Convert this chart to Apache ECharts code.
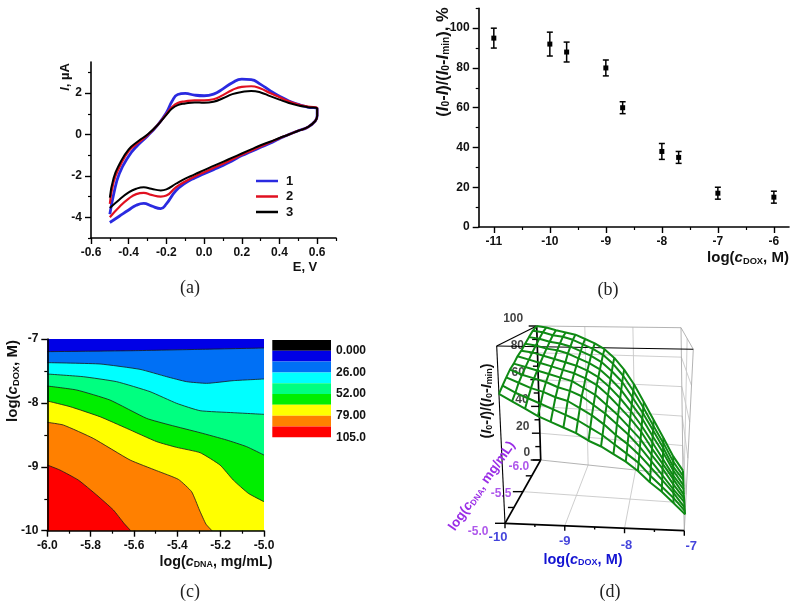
<!DOCTYPE html>
<html><head><meta charset="utf-8">
<style>html,body{margin:0;padding:0;background:#fff}#c{width:796px;height:605px}</style>
<script src="https://cdn.jsdelivr.net/npm/echarts@6/dist/echarts.min.js"></script>
</head><body><div id="c"></div>
<script>
// ---------- panel (a) data
const cvE = [-0.5,-0.48,-0.45,-0.4,-0.35,-0.3,-0.25,-0.2,-0.17,-0.14,-0.1,-0.05,0,0.05,0.1,0.15,0.2,0.25,0.3,0.35,0.4,0.45,0.5,0.55,0.6,
             0.6,0.59,0.55,0.5,0.45,0.4,0.35,0.3,0.25,0.2,0.15,0.1,0.05,0,-0.05,-0.1,-0.15,-0.2,-0.23,-0.28,-0.32,-0.36,-0.4,-0.45,-0.5];
const cv1 = [-3.85,-2.9,-1.9,-1.05,-0.5,-0.07,0.42,1.05,1.6,1.93,1.98,1.9,1.87,1.95,2.2,2.5,2.67,2.65,2.42,2.12,1.85,1.62,1.45,1.32,1.25,
             0.9,0.65,0.35,0.18,0.0,-0.2,-0.42,-0.62,-0.82,-1.02,-1.27,-1.5,-1.7,-1.9,-2.1,-2.35,-2.72,-3.35,-3.58,-3.45,-3.33,-3.42,-3.65,-3.95,-4.25];
const cv2 = [-3.35,-2.3,-1.6,-0.8,-0.4,-0.03,0.42,0.98,1.32,1.52,1.6,1.65,1.65,1.7,1.9,2.15,2.3,2.33,2.22,2.0,1.8,1.6,1.45,1.35,1.28,
             0.9,0.65,0.35,0.18,0.0,-0.18,-0.38,-0.58,-0.78,-0.98,-1.2,-1.42,-1.62,-1.82,-2.03,-2.27,-2.55,-2.95,-3.0,-2.92,-2.82,-2.88,-3.1,-3.5,-4.0];
const cv3 = [-3.05,-2.1,-1.45,-0.72,-0.33,0.0,0.42,0.95,1.25,1.42,1.5,1.55,1.53,1.58,1.75,1.95,2.05,2.1,2.03,1.85,1.68,1.52,1.4,1.32,1.25,
             0.9,0.65,0.35,0.18,0.0,-0.17,-0.35,-0.52,-0.72,-0.92,-1.12,-1.32,-1.52,-1.72,-1.93,-2.13,-2.38,-2.65,-2.7,-2.62,-2.55,-2.62,-2.8,-3.15,-3.55];
const aXMajor = [-0.6,-0.4,-0.2,0,0.2,0.4,0.6];
const aXMinor = [-0.5,-0.3,-0.1,0.1,0.3,0.5,0.7];
const aYMajor = [-4,-2,0,2];
const aYMinor = [-5,-3,-1,1,3];
// ---------- panel (b) data
const bX = [-11,-10,-9.7,-9,-8.7,-8,-7.7,-7,-6];
const bY = [95,92,88,80,60,38,35,17,15];
const bErr = [5,6,5,4,3,4,3,3,3];
const bXMajor = [-11,-10,-9,-8,-7,-6];
const bXMinor = [-10.5,-9.5,-8.5,-7.5,-6.5];
const bYMajor = [0,20,40,60,80,100];
const bYMinor = [10,30,50,70,90,110];
// ---------- panel (c) data: contour boundaries
const c0X = [-6,-5];                         const c0Y = [-7,-7];
const c1X = [-6,-5.603,-5.295,-5];           const c1Y = [-7.198,-7.183,-7.162,-7.141];
const c2X = [-6,-5.757,-5.572,-5.449,-5.357,-5.265,-5.142,-5];
const c2Y = [-7.37,-7.391,-7.475,-7.59,-7.668,-7.694,-7.652,-7.626];
const c3X = [-6,-5.834,-5.68,-5.526,-5.403,-5.295,-5.142,-5];
const c3Y = [-7.548,-7.59,-7.668,-7.824,-8.007,-8.122,-8.153,-8.179];
const c4X = [-6,-5.865,-5.711,-5.542,-5.434,-5.295,-5.172,-5.08,-5];
const c4Y = [-7.736,-7.798,-7.955,-8.242,-8.346,-8.466,-8.581,-8.685,-8.816];
const c5X = [-6,-5.895,-5.757,-5.634,-5.495,-5.403,-5.295,-5.203,-5.142,-5.072,-5];
const c5Y = [-7.97,-8.059,-8.216,-8.398,-8.607,-8.696,-8.779,-8.972,-9.207,-9.416,-9.546];
const c6X = [-6,-5.926,-5.788,-5.618,-5.495,-5.395,-5.334,-5.298,-5.268,-5.24];
const c6Y = [-8.304,-8.346,-8.555,-8.894,-9.061,-9.197,-9.39,-9.676,-9.896,-10];
const c7X = [-6,-5.942,-5.857,-5.772,-5.695,-5.646,-5.615];
const c7Y = [-8.972,-9.05,-9.207,-9.442,-9.676,-9.885,-10];
const cXMajor = [-6,-5.8,-5.6,-5.4,-5.2,-5];
const cXMinor = [-5.9,-5.7,-5.5,-5.3,-5.1];
const cYMajor = [-10,-9,-8,-7];
const cYMinor = [-9.5,-8.5,-7.5];
const legendColors = ['#000000','#0000e6','#0070f5','#00ffff','#00ff80','#00ee00','#ffff00','#ff8000','#ff0000'];
const legendStep = [1];
const legendLabels = ['0.000','26.00','52.00','79.00','105.0'];
// ---------- panel (d) data: surface
const dX = [-10,-9.8,-9.6,-9.4,-9.2,-9,-8.8,-8.6,-8.4,-8.2,-8,-7.8,-7.6,-7.4,-7.2,-7];
const dY = [-6,-5.9,-5.8,-5.7,-5.6,-5.5,-5.4,-5.3,-5.2,-5.1,-5];
const dZ0 = [100,99,97,95.5,94,91,88,84,78,70,60,48,36,24,12,3];
const dZ1 = [98,97,95,94,92,89,86,82,76,68,58,47,35,24,12,3];
const dZ2 = [95,94,92,91,89,86,83,79,73,66,56,46,35,24,12,4];
const dZ3 = [92,91,89,88,86,83,80,76,70,63,54,45,34,24,13,4];
const dZ4 = [89,88,86,84,82,80,77,73,67,60,52,43,33,23,13,5];
const dZ5 = [87,85,83,81,79,77,74,70,64,57,50,42,32,23,14,5];
const dZ6 = [84,82,80,78,76,74,70,66,60,54,47,40,31,23,14,6];
const dZ7 = [82,79,77,75,72,70,67,62,57,51,45,38,30,22,14,7];
const dZ8 = [79,76,73,71,68,66,62,58,53,47,42,36,29,22,15,7];
const dZ9 = [76,72,69,66,63,60,57,53,49,44,39,34,27,21,15,8];
const dZ10 = [73,69,65,61,58,55,52,48,45,41,37,32,26,21,15,9];
const dZ = [dZ0,dZ1,dZ2,dZ3,dZ4,dZ5,dZ6,dZ7,dZ8,dZ9,dZ10];
const dZTicks = [0,20,40,60,80,100];
const dXTicks = [-10,-9,-8,-7];
const dYTicks = [-6,-5.5,-5];

// ---------- styles
const SANS = '"Liberation Sans",Arial,sans-serif';
const INK = '#111';
function axisPair(gi, pos, min, max, major, minor, fmt, size, len, lw) {
  const main = {
    type:'value', gridIndex:gi, position:pos, min, max, z:6,
    axisLine:{show:true,onZero:false,lineStyle:{color:'#000',width:lw||1.6}},
    axisTick:{show:true,customValues:major,length:len||6,lineStyle:{color:'#000',width:1.4}},
    axisLabel:{customValues:major,formatter:fmt,color:INK,fontFamily:SANS,fontWeight:'bold',fontSize:size||12,margin:(len||6)+3},
    splitLine:{show:false}
  };
  const sub = {
    type:'value', gridIndex:gi, position:pos, min, max, z:6,
    axisLine:{show:false,onZero:false},
    axisTick:{show:true,customValues:minor,length:3,lineStyle:{color:'#000',width:1.2}},
    axisLabel:{show:false}, splitLine:{show:false}
  };
  return [main, sub];
}
const f1 = v => v.toFixed(1);
const f0 = v => String(Math.round(v));

const xAxes = [], yAxes = [];
xAxes.push(...axisPair(0,'bottom',-0.6,0.7,aXMajor,aXMinor,f1));
yAxes.push(...axisPair(0,'left',-5,3.5,aYMajor,aYMinor,f0));
xAxes.push(...axisPair(1,'bottom',-11.27,-5.73,bXMajor,bXMinor,f0));
yAxes.push(...axisPair(1,'left',0,110,bYMajor,bYMinor,f0));
xAxes.push(...axisPair(2,'bottom',-6,-5,cXMajor,cXMinor,f1));
yAxes.push(...axisPair(2,'left',-10,-7,cYMajor,cYMinor,f0));
xAxes.push({type:'category',gridIndex:3,data:['k'],show:false});
yAxes.push({type:'value',gridIndex:3,min:0,max:9,inverse:true,position:'right',
  axisLine:{show:false},axisTick:{show:false,customValues:[1,3,5,7,9]},splitLine:{show:false},
  axisLabel:{customValues:[1,3,5,7,9],formatter:v=>legendLabels[(v-1)/2],color:INK,fontFamily:SANS,fontWeight:'bold',fontSize:12,margin:5,align:'left'}});
xAxes.push({type:'value',gridIndex:4,min:0,max:796,show:false});
yAxes.push({type:'value',gridIndex:4,min:0,max:605,inverse:true,show:false});

const series = [];
// (a)
const zipE = arr => arr.map((v,i)=>[cvE[i],v]);
[['1',cv1,'#2a2ae0',2.8],['2',cv2,'#e01020',2.2],['3',cv3,'#000000',2]].forEach(s=>{
  series.push({name:s[0],type:'line',xAxisIndex:0,yAxisIndex:0,data:zipE(s[1]),showSymbol:false,smooth:0.5,
    lineStyle:{color:s[2],width:s[3]},itemStyle:{color:s[2]}});
});
// (b)
series.push({type:'custom',xAxisIndex:2,yAxisIndex:2,
  data:bX.map((x,i)=>[x,bY[i],bY[i]-bErr[i],bY[i]+bErr[i]]),
  encode:{x:0,y:1},
  renderItem:(p,api)=>{
    const x=api.value(0),a=api.coord([x,api.value(2)]),b=api.coord([x,api.value(3)]);
    const st={stroke:'#000',lineWidth:1.5,fill:null},w=3;
    return {type:'group',children:[
      {type:'line',shape:{x1:a[0],y1:a[1],x2:b[0],y2:b[1]},style:st},
      {type:'line',shape:{x1:a[0]-w,y1:a[1],x2:a[0]+w,y2:a[1]},style:st},
      {type:'line',shape:{x1:b[0]-w,y1:b[1],x2:b[0]+w,y2:b[1]},style:st}]};
  }});
series.push({type:'scatter',xAxisIndex:2,yAxisIndex:2,symbol:'rect',symbolSize:5,
  data:bX.map((x,i)=>[x,bY[i]]),itemStyle:{color:'#000',opacity:1}});
// (c)
[[c0X,c0Y,1],[c1X,c1Y,2],[c2X,c2Y,3],[c3X,c3Y,4],[c4X,c4Y,5],[c5X,c5Y,6],[c6X,c6Y,7],[c7X,c7Y,8]].forEach((s,i)=>{
  series.push({type:'line',xAxisIndex:4,yAxisIndex:4,showSymbol:false,smooth:0.15,z:2+i*0.01,
    data:s[0].map((x,j)=>[x,s[1][j]]),
    lineStyle:{color:'#1a1a1a',width:i===0?0:0.8},
    areaStyle:{color:legendColors[s[2]],opacity:1,origin:'start'}});
});
legendColors.forEach(col=>{
  series.push({type:'bar',xAxisIndex:6,yAxisIndex:6,stack:'legend',barWidth:'100%',data:legendStep,itemStyle:{color:col}});
});
// (d) projection: box corners on screen, trilinear between them
const box = {
  b0:[540.7,460], b1:[536.7,326], r0:[683,475], r1:[681,327.7],
  f0:[505,523.3], f1:[496.7,346], g0:[684.3,530.7], g1:[693.3,349.3]
};
function project(X,Y,Z){
  const u=(X+10)/3, v=Y+6, w=Z/100, out=[];
  for(let k=0;k<2;k++){
    const bot=(1-u)*(1-v)*box.b0[k]+u*(1-v)*box.r0[k]+(1-u)*v*box.f0[k]+u*v*box.g0[k];
    const top=(1-u)*(1-v)*box.b1[k]+u*(1-v)*box.r1[k]+(1-u)*v*box.f1[k]+u*v*box.g1[k];
    out.push(bot*(1-w)+top*w);
  }
  return out;
}
const d3line=(pts,col,w,z)=>series.push({type:'line',xAxisIndex:7,yAxisIndex:7,showSymbol:false,silent:true,z:z||2,
  data:pts,lineStyle:{color:col,width:w},clip:false});
const seg=(a,b)=>[project(...a),project(...b)];
const GR='#c8c8c8';
// gray walls and floor
dXTicks.slice(1,3).forEach(x=>{
  d3line(seg([x,-5,0],[x,-6,0]),GR,0.9);
  d3line(seg([x,-6,0],[x,-6,100]),GR,0.9);
});
d3line(seg([-10,-5.5,0],[-7,-5.5,0]),GR,0.9);
d3line(seg([-7,-5.5,0],[-7,-5.5,100]),GR,0.9);
dZTicks.slice(1,5).forEach(z=>{
  d3line(seg([-10,-6,z],[-7,-6,z]),GR,0.9);
  d3line(seg([-7,-6,z],[-7,-5,z]),GR,0.9);
});
[[[-10,-6,100],[-7,-6,100]],[[-7,-6,100],[-7,-5,100]],[[-7,-6,0],[-7,-6,100]],[[-7,-5,0],[-7,-5,100]],
 [[-10,-6,0],[-7,-6,0]],[[-7,-6,0],[-7,-5,0]]].forEach(e=>d3line(seg(e[0],e[1]),'#aaa',0.9));
// black axes
[[[-10,-5,100],[-7,-5,100]],[[-10,-5,100],[-10,-6,100]],[[-10,-5,0],[-10,-5,100]]].forEach(e=>d3line(seg(e[0],e[1]),'#000',1.1));
[[[-10,-6,0],[-10,-6,100]],[[-10,-5,0],[-7,-5,0]],[[-10,-5,0],[-10,-6,0]]].forEach(e=>d3line(seg(e[0],e[1]),'#000',1.7));
// ticks
const tickZ=z=>{const p=project(-10,-6,z);return [p,[p[0]-(z%20===0?8:5),p[1]]];};
[0,10,20,30,40,50,60,70,80,90,100].forEach(z=>d3line(tickZ(z),'#000',1.4));
[-10,-9.5,-9,-8.5,-8,-7.5,-7].forEach(x=>{const p=project(x,-5,0);d3line([p,[p[0],p[1]+(x%1===0?5:2.5)]],'#000',1.4);});
[-6,-5.75,-5.5,-5.25,-5].forEach(y=>{const p=project(-10,y,0);d3line([p,[p[0]-(y%0.5===0?10:6),p[1]]],'#000',1.4);});
// tick labels
const lab=(pts,col,pos,size)=>series.push({type:'scatter',xAxisIndex:7,yAxisIndex:7,symbolSize:1,silent:true,z:1,data:pts,
  itemStyle:{color:'rgba(0,0,0,0)'},
  label:{show:true,position:pos,distance:0,formatter:p=>p.value[2],color:col,fontFamily:SANS,fontWeight:'bold',fontSize:size}});
lab(dZTicks.map(z=>{const p=project(-10,-6,z);return [p[0]-(z>=60?13:10),p[1]-7,String(z)];}),INK,'left',12);
const dYOffX=[-11,-11,-16], dYOffY=[7,2,8];
lab(dYTicks.map((y,i)=>{const p=project(-10,y,0);return [p[0]+dYOffX[i],p[1]+dYOffY[i],y.toFixed(1)];}),'#9a2ee6','left',12);
const dXOffX=[-7,0,2,7], dXOffY=[14,16,17,16];
lab(dXTicks.map((x,i)=>{const p=project(x,-5,0);return [p[0]+dXOffX[i],p[1]+dXOffY[i],String(x)];}),'#1414d2','inside',13);
// wireframe
const GREEN='#0f8a14';
dY.forEach((y,r)=>d3line(dX.map((x,c)=>project(x,y,dZ[r][c])),GREEN,2,5));
dX.forEach((x,c)=>d3line(dY.map((y,r)=>project(x,y,dZ[r][c])),GREEN,2,5));

// ---------- rich text titles
function rich(col,size){return {
  n:{fontFamily:SANS,fontWeight:'bold',fontSize:size,fill:col,color:col},
  i:{fontFamily:SANS,fontWeight:'bold',fontStyle:'italic',fontSize:size,fill:col,color:col},
  s:{fontFamily:SANS,fontWeight:'bold',fontSize:size*0.62,fill:col,color:col,verticalAlign:'bottom',padding:[6,0,0,0]}
};}
const txt=(x,y,t,col,size,rot)=>({type:'text',x,y,rotation:rot||0,z:20,silent:true,
  style:{text:t,rich:rich(col,size),align:'center',verticalAlign:'middle',textAlign:'center',textVerticalAlign:'middle',fill:col}});
const panel=(x,y,t)=>({type:'text',x,y,z:20,silent:true,style:{text:t,fontFamily:'"Liberation Serif",serif',fontSize:18,fill:'#222',align:'center',verticalAlign:'middle',textAlign:'center',textVerticalAlign:'middle'}});
const R90=Math.PI/2;
const doxTitle='{n|log(}{i|c}{s|DOX}{n|, M)}';
const dnaTitle='{n|log(}{i|c}{s|DNA}{n|, mg/mL)}';
const ratio='{n|(}{i|I}{s|0}{n|-}{i|I}{n|)/(}{i|I}{s|0}{n|-}{i|I}{s|min}{n|)}';
const graphic=[
  panel(190,288,'(a)'),panel(608,290,'(b)'),panel(190,592,'(c)'),panel(610,592,'(d)'),
  txt(305,267,'{n|E, V}',INK,13),
  txt(65,77,'{i|I}{n|, \u00b5A}',INK,13,R90),
  txt(748,258,doxTitle,INK,15),
  txt(443,62,ratio+'{n|, %}',INK,16.5,R90),
  txt(13,381,doxTitle,INK,15,R90),
  txt(216,562,dnaTitle,INK,14.3),
  txt(583,560,doxTitle,'#1414d2',14.5),
  txt(482,486,dnaTitle,'#9a2ee6',13.4,55*Math.PI/180),
  txt(487,401,ratio,INK,14.5,R90)
];

const option={
  animation:false,backgroundColor:'#fff',
  grid:[
    {left:91,top:62,width:245,height:176},
    {left:478.7,top:8.3,width:310.3,height:218.7},
    {left:47.3,top:339,width:216.7,height:191.7},
    {left:272.3,top:340,width:58.7,height:97.3},
    {left:0,top:0,width:796,height:605}
  ],
  legend:{data:['1','2','3'],orient:'vertical',left:251,top:169,itemWidth:22,itemHeight:2.5,itemGap:1.5,
    icon:'rect',textStyle:{color:INK,fontFamily:SANS,fontWeight:'bold',fontSize:13,lineHeight:14,padding:[0,0,0,3]}},
  xAxis:xAxes,yAxis:yAxes,series,graphic
};
echarts.init(document.getElementById('c'),null,{renderer:'canvas'}).setOption(option);
</script></body></html>
